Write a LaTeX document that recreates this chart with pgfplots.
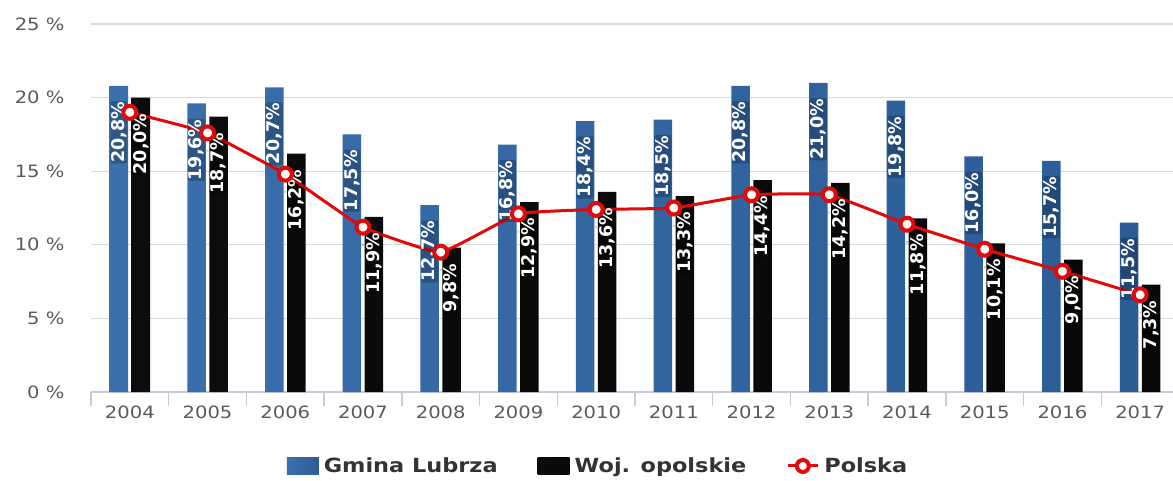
\documentclass[border=0pt]{standalone}
\usepackage{pgfplots}
\pgfplotsset{compat=1.18}
\usepackage{fontspec}
\setmainfont{DejaVu Sans}[FakeStretch=1.15]
\newfontfamily\lblfont{DejaVu Sans}
\definecolor{tickgray}{HTML}{5A5A5A}
\definecolor{gridgray}{HTML}{D9D9D9}
\definecolor{axisgray}{HTML}{C2CCDA}
\definecolor{legendgray}{HTML}{333333}
\definecolor{blueL}{HTML}{3A70AD}
\definecolor{blueM}{HTML}{70ABE2}
\definecolor{blueR}{HTML}{2C5C96}
\definecolor{blackL}{HTML}{0C0C0C}
\definecolor{blackM}{HTML}{404040}
\definecolor{blackR}{HTML}{080808}
\definecolor{polred}{HTML}{E10A0A}

\pgfplotstableread{
x gmina woj polska
0 20.8 20.0 19.0
1 19.6 18.7 17.6
2 20.7 16.2 14.8
3 17.5 11.9 11.2
4 12.7 9.8 9.5
5 16.8 12.9 12.1
6 18.4 13.6 12.4
7 18.5 13.3 12.5
8 20.8 14.4 13.4
9 21.0 14.2 13.4
10 19.8 11.8 11.4
11 16.0 10.1 9.7
12 15.7 9.0 8.2
13 11.5 7.3 6.6
}\datatable

\begin{document}
\begin{tikzpicture}
\useasboundingbox (0,0) rectangle (1173pt,480pt);
\begin{axis}[
  at={(91pt,88pt)}, anchor=south west, scale only axis,
  width=1088pt, height=368pt,
  xmin=-0.5, xmax=13.5, ymin=0, ymax=25,
  clip=false,
  axis line style={draw=none},
  tick pos=left,
  xtick={0,...,13},
  xticklabels={2004,2005,2006,2007,2008,2009,2010,2011,2012,2013,2014,2015,2016,2017},
  ytick={0,5,...,25},
  yticklabels={0 \%,5 \%,10 \%,15 \%,20 \%,25 \%},
  major tick length=0pt,
  ymajorgrids,
  grid style={draw=gridgray, line width=1.3pt},
  /pgf/number format/assume math mode=true,
  tick label style={font=\fontsize{17}{20}\selectfont, text=tickgray},
  xticklabel style={anchor=north, yshift=-10pt},
  yticklabel style={anchor=east, xshift=-23pt},
  extra x ticks={-0.5,0.5,...,13.5},
  extra x tick labels={},
  extra x tick style={major tick length=14pt, tick align=outside,
     tick style={draw=axisgray, line width=1.5pt}, grid=none},
  legend style={at={(axis description cs:0.466,-0.201)}, anchor=center,
     draw=none, fill=none, legend columns=-1,
     font=\fontsize{19.5}{22}\selectfont\bfseries, text=legendgray,
     /tikz/every odd column/.append style={column sep=3pt},
     /tikz/every even column/.append style={column sep=38pt}},
  nodes near coords={\rotatebox{90}{\pgfmathprintnumber[fixed,fixed zerofill,precision=1,use comma]{\pgfplotspointmeta}\%}},
  every node near coord/.append style={anchor=north, yshift=-15pt,
     font=\lblfont\bfseries\fontsize{17.5}{20}\selectfont, text=white,
     fill=black, fill opacity=0.22, text opacity=1, inner sep=0.8pt, rounded corners=2pt},
]
\draw[axisgray, line width=1.5pt] (axis cs:-0.5,0) -- (axis cs:13.5,0);

\addplot[ybar, bar width=18.5pt, bar shift=-11pt, draw=none,
   left color=blueL, middle color=blueM, right color=blueR,
   point meta=y,
   every node near coord/.append style={xshift=-11pt},
   legend image code/.code={\shade[left color=blueL, middle color=blueM, right color=blueR] (0pt,-8.5pt) rectangle (32pt,8.5pt);}]
   table[x=x, y=gmina] {\datatable};
\addlegendentry{Gmina Lubrza}

\addplot[ybar, bar width=18.5pt, bar shift=11pt, draw=none,
   left color=blackL, middle color=blackM, right color=blackR,
   point meta=y,
   every node near coord/.append style={xshift=11pt},
   legend image code/.code={\shade[left color=blackL, middle color=blackM, right color=blackR] (0pt,-8.5pt) rectangle (32pt,8.5pt);}]
   table[x=x, y=woj] {\datatable};
\addlegendentry{Woj. opolskie}

\addplot[polred, line width=3pt, smooth, tension=0.2,
   mark=*, mark size=6.5pt, mark options={fill=white, draw=polred, line width=4pt},
   nodes near coords={},
   legend image code/.code={\draw[polred, line width=3pt] (0pt,0pt) -- (30pt,0pt);
      \draw[polred, line width=4pt, fill=white] (15pt,0pt) circle (6pt);}]
   table[x=x, y=polska] {\datatable};
\addlegendentry{Polska}
\end{axis}
\end{tikzpicture}
\end{document}
